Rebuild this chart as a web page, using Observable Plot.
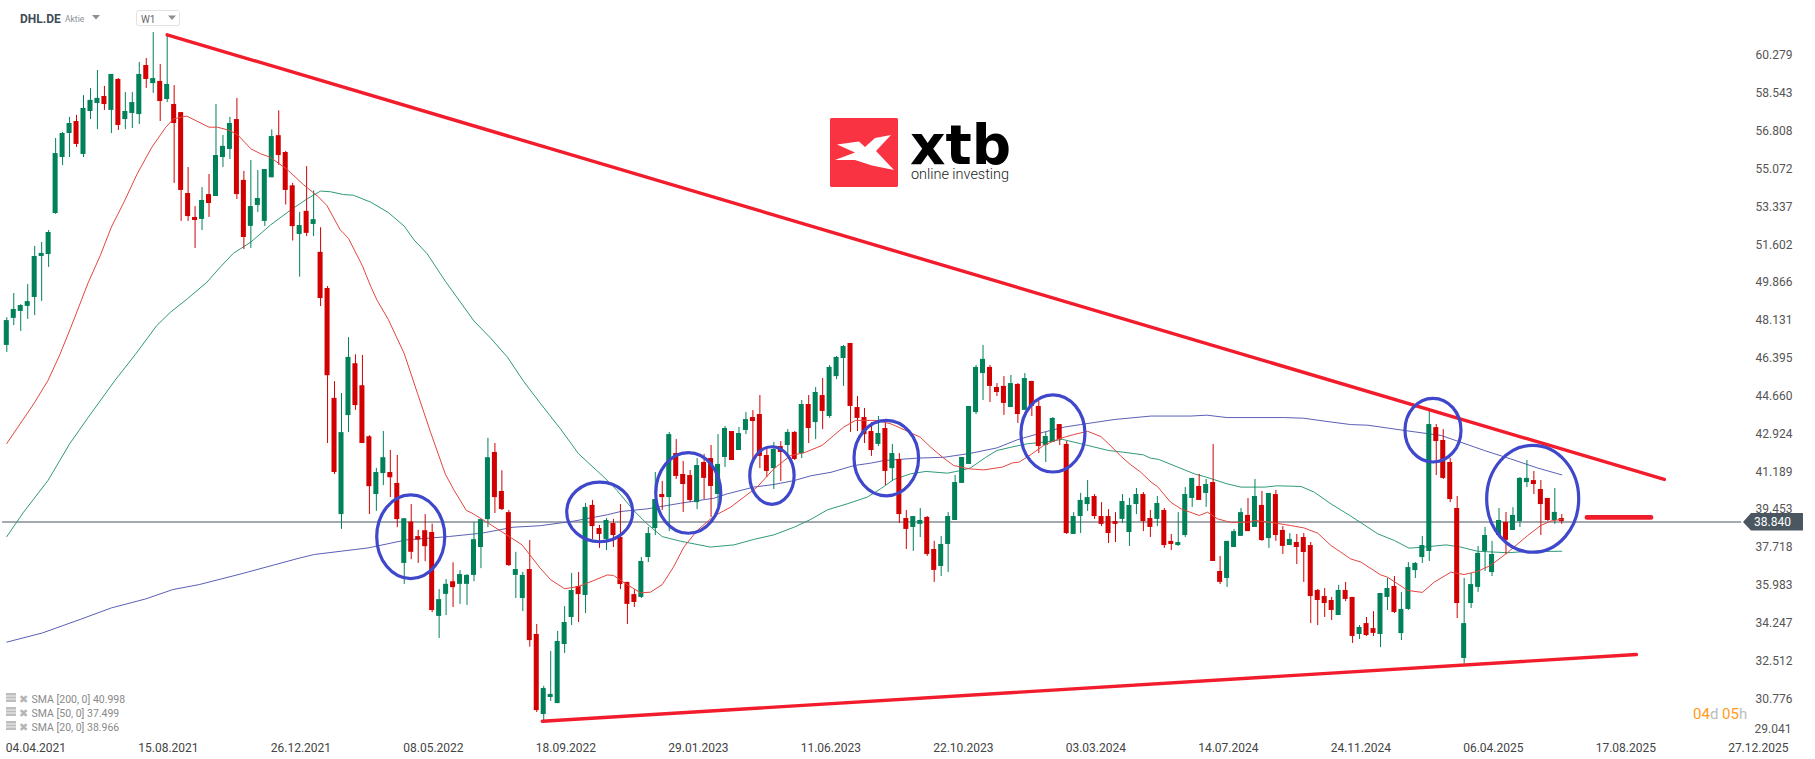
<!DOCTYPE html>
<html>
<head>
<meta charset="utf-8">
<script src="https://cdn.jsdelivr.net/npm/d3@7"></script>
<script src="https://cdn.jsdelivr.net/npm/@observablehq/plot@0.6"></script>
<style>
html,body{margin:0;padding:0;background:#fff;overflow:hidden}
#chart svg{display:block}
</style>
</head>
<body>
<div id="chart"></div>
<script>
const bodyTop=[48.08,48.59,48.77,48.95,51.02,51.16,52.12,55.74,56.66,57.12,
57.21,57.81,58.18,58.27,58.36,59.37,59.14,57.67,58.08,59.37,
59.78,59.18,59.05,58.91,57.99,57.62,53.91,52.81,53.59,53.86,
55.65,56.07,57.12,57.30,54.51,53.31,53.68,55.01,56.52,56.56,
55.79,54.26,52.44,53.09,52.71,51.21,49.55,44.51,42.94,46.39,
46.10,45.09,42.75,41.11,41.79,41.11,40.61,38.99,38.84,38.17,
38.44,38.36,35.28,35.98,36.10,36.43,36.39,38.03,38.95,41.79,
42.03,40.24,39.27,36.66,36.39,36.66,33.68,31.20,30.93,33.36,
34.23,35.70,35.88,39.51,39.60,38.54,38.91,38.77,38.13,36.07,
35.51,37.03,38.31,39.87,40.10,42.85,41.98,41.02,40.97,41.43,
41.57,41.75,41.48,43.13,42.99,42.90,43.54,43.63,43.77,41.89,
42.17,42.30,42.95,42.95,44.23,44.23,44.78,44.64,45.93,46.39,
46.89,47.03,44.09,43.63,42.99,42.90,43.13,41.98,41.71,39.00,
39.09,38.91,39.05,37.58,37.81,39.09,40.65,41.80,44.14,45.93,
46.30,45.93,45.01,45.06,45.19,45.15,45.42,45.29,44.14,42.76,
43.59,43.31,42.40,39.09,39.83,39.96,40.01,39.09,39.09,38.86,
39.78,39.60,40.10,40.10,39.00,39.69,39.37,37.95,37.90,40.10,
40.84,40.47,40.56,40.65,36.57,37.95,38.40,39.27,39.14,40.01,
39.60,40.15,40.10,38.45,38.04,37.90,38.13,37.76,35.70,35.42,
35.24,35.70,35.70,35.38,34.00,34.18,33.95,35.56,35.79,35.88,
34.83,36.75,36.94,37.76,43.31,43.17,42.58,41.57,39.46,34.18,
35.97,37.40,38.22,37.35,38.91,38.82,39.14,40.84,40.84,40.74,
40.33,39.92,39.28,39.00];
const bodyBottom=[46.94,48.18,48.50,48.73,49.14,51.02,51.11,52.99,55.56,56.66,
56.16,55.70,57.67,58.04,57.99,57.72,57.03,57.30,57.58,57.53,
59.14,58.95,58.13,58.22,57.12,54.05,52.85,52.67,52.72,53.45,
53.77,55.56,55.93,53.86,51.89,52.40,53.36,52.63,54.63,55.65,
54.05,52.39,52.03,52.08,52.49,49.09,45.55,41.11,39.18,43.72,
44.18,42.44,40.46,40.10,41.06,40.87,38.95,36.94,37.45,38.01,
37.71,34.78,34.51,35.52,35.83,35.98,35.98,36.39,37.67,38.95,
39.96,39.41,36.84,36.39,35.33,33.40,30.19,30.01,30.79,30.51,
33.22,34.46,35.51,35.47,38.63,38.27,38.04,38.22,35.97,35.06,
35.15,35.38,37.21,38.54,39.96,39.96,40.93,40.56,39.83,39.73,
40.84,40.47,40.10,41.80,41.66,42.12,43.04,43.45,41.85,41.16,
41.29,42.03,42.35,41.71,41.98,43.13,43.40,43.91,43.68,45.51,
46.34,44.14,43.59,42.85,42.12,42.40,41.16,41.29,39.18,38.50,
38.59,38.73,37.35,36.62,36.80,37.81,38.91,40.61,41.48,43.86,
45.65,45.06,44.78,44.28,44.09,43.77,43.96,44.14,42.30,42.35,
42.49,42.62,38.31,38.27,39.09,39.64,39.09,38.73,38.31,38.73,
38.96,38.36,39.64,38.86,38.59,38.96,37.76,37.81,37.76,38.22,
39.92,39.83,40.15,37.03,36.07,36.25,37.67,38.18,38.40,38.59,
37.99,38.08,38.22,37.72,37.76,37.67,37.44,35.42,35.24,35.10,
34.78,34.55,35.29,33.59,33.68,33.63,33.73,33.68,35.38,34.69,
33.72,34.83,36.61,37.21,37.49,42.53,40.84,39.87,35.10,32.58,
35.10,35.84,37.49,36.52,38.22,38.00,38.45,38.86,40.65,40.56,
39.64,38.91,38.91,38.86];
const highs=[48.21,49.32,48.81,49.73,51.48,51.66,52.21,56.43,56.71,57.40,
57.49,58.40,58.72,59.55,58.82,59.37,59.18,58.54,58.54,59.92,
60.10,61.29,59.83,61.20,58.86,57.62,55.10,53.31,54.18,54.78,
57.99,56.57,57.40,58.27,54.92,55.42,54.96,55.01,56.83,57.70,
55.84,54.38,53.04,55.14,54.03,52.34,49.64,45.28,44.73,47.30,
46.51,46.48,42.80,41.30,42.99,42.12,41.89,38.99,39.64,38.46,
39.18,38.74,35.74,36.20,36.97,36.61,36.43,38.82,38.95,42.68,
42.44,41.19,39.37,37.45,36.53,37.99,34.14,31.30,32.90,33.82,
34.96,36.48,36.52,39.69,39.83,38.68,39.00,38.96,39.64,36.07,
35.74,37.21,38.59,41.11,40.70,42.95,42.62,41.62,41.20,41.75,
41.94,42.35,42.85,43.22,42.99,43.18,43.86,43.95,44.64,42.30,
42.49,42.53,43.08,42.99,44.41,44.64,45.01,45.42,46.02,46.43,
46.94,47.03,44.60,44.05,43.40,43.68,43.36,42.40,41.98,39.37,
39.09,39.46,39.09,37.95,38.18,39.27,40.97,41.80,44.14,46.02,
46.94,46.02,45.19,45.51,45.56,45.19,45.65,45.29,44.37,42.95,
43.63,43.31,42.53,39.27,40.15,40.74,40.10,39.73,39.41,39.27,
40.10,39.92,40.38,40.19,39.37,40.01,39.46,38.27,39.27,40.42,
40.84,41.02,40.79,42.40,37.26,37.95,38.50,39.46,39.92,40.79,
40.24,40.15,40.29,38.63,38.31,38.27,38.31,37.90,35.74,35.79,
35.38,35.93,36.07,35.38,34.09,34.46,34.73,35.56,36.25,36.34,
35.61,36.98,36.98,38.17,43.95,43.31,43.08,41.75,40.01,36.25,
36.48,37.72,38.59,37.95,39.46,39.28,39.50,40.88,41.66,41.16,
40.74,39.92,40.38,39.18];
const lows=[46.62,47.85,47.58,48.13,48.31,48.96,50.52,52.95,55.19,55.56,
56.02,55.56,57.30,56.84,57.72,56.66,56.80,56.84,56.89,57.07,
58.73,58.50,57.21,58.08,54.37,52.63,52.63,51.39,52.21,52.81,
53.77,55.10,55.47,53.63,51.34,51.39,53.04,52.40,54.63,55.20,
53.38,51.73,50.07,51.93,51.93,48.72,42.44,41.02,38.50,42.94,
43.96,42.44,39.18,39.33,40.51,39.96,38.58,35.98,37.11,36.94,
37.02,34.68,33.50,34.55,34.92,35.06,35.01,36.10,36.70,38.58,
39.23,39.36,36.80,35.33,34.73,33.10,30.10,29.74,30.61,30.51,
32.81,34.09,34.23,34.64,38.04,37.63,37.53,37.67,35.74,34.14,
34.92,35.33,36.98,38.22,39.37,38.40,40.79,39.28,39.73,39.41,
39.87,39.05,39.55,41.34,41.66,42.12,42.85,41.62,41.29,40.88,
40.33,40.70,41.85,41.66,41.75,42.44,42.62,43.08,43.59,45.37,
45.06,42.95,42.99,42.44,41.85,42.30,40.51,40.70,38.77,37.58,
37.49,38.13,37.26,36.07,36.34,36.52,38.91,40.61,41.48,43.77,
44.41,44.32,44.60,43.73,44.09,43.36,43.96,43.68,41.98,41.57,
42.49,42.35,38.27,38.27,38.31,39.32,38.96,38.63,37.85,37.90,
38.77,37.72,39.18,38.40,38.13,38.63,37.63,37.53,37.72,38.13,
39.51,39.83,39.51,37.03,35.97,35.84,37.67,38.18,38.40,38.59,
37.95,37.63,37.95,37.35,37.76,36.89,36.07,34.18,34.09,34.46,
34.32,34.55,35.19,33.27,33.45,33.59,33.59,33.08,34.78,34.64,
33.40,34.78,36.25,36.94,37.03,40.97,40.79,39.73,34.41,32.33,
34.87,35.61,36.57,36.34,38.17,37.35,38.45,38.59,40.42,40.10,
38.22,38.86,38.73,38.73];
const fallingWeeks=[10,14,16,20,22,24,25,26,27,29,33,34,39,40,41,43,45,46,47,50,51,52,55,56,58,59,60,61,64,70,71,72,75,76,82,84,85,87,88,89,90,94,96,97,98,100,101,104,107,108,109,111,113,115,117,121,122,123,124,126,128,129,132,133,141,142,143,145,147,148,151,152,156,157,158,159,163,164,166,167,171,173,174,178,180,182,183,185,186,187,188,189,190,192,193,195,196,199,205,206,207,208,215,219,220,221,223];

const sma20Week=[0,4,5.9,7.6,9.1,11.7,13.4,15,16.8,18.7,20.8,22.8,23.9,25.8,29,30.2,32,33.2,35,36.4,37.8,40.2,42.6,44.7,45.9,47.8,49,51,52.2,53.1,54.7,57,58.9,60.8,62.9,64.1,65.9,66.7,68.9,70.8,73.9,76.5,78,80,82,84.2,86.1,87,89,90.9,92.3,94,95.6,97.1,99,101.4,103.8,105.7,107.6,110,112.4,114.3,116.9,118.6,120,121.7,124.8,126.8,128.7,131,132.5,134.2,135.8,138,140.1,142.8,144.2,145.2,146.9,148.7,150.9,153,155,156.9,158,159.8,161.2,162.6,164.1,165,166.9,168.4,171,172.2,173.6,175.5,177.9,179,181.3,184.1,186,188,189.9,191.3,192.7,194.2,197,198,200.9,203,204.7,207.1,209,210.9,212.8,215.2,218.1,220,221.4,223];
const sma20Value=[42.44,44.33,45.33,46.51,47.70,49.84,51.06,52.37,53.51,54.81,56.03,56.95,57.33,57.46,56.95,56.95,56.8,56.57,55.96,55.73,55.57,55.01,54.30,53.75,53.36,52.25,51.85,50.59,49.64,49.01,48.14,46.56,44.74,42.93,41.03,40.32,39.37,39.25,38.82,38.43,37.79,36.72,36.19,35.78,35.88,36.16,36.41,36.39,35.96,35.59,35.62,35.97,36.77,37.69,38.45,39.11,39.52,39.98,40.44,41.28,41.89,42.01,42.35,42.81,43.19,43.50,43.50,43.34,43.07,42.73,42.27,41.81,41.43,41.28,41.23,41.36,41.55,41.59,41.94,42.35,42.66,42.85,43.0,42.76,42.43,41.85,41.46,41.13,40.67,40.47,39.75,39.44,39.14,39.29,38.99,38.82,38.83,38.91,38.82,38.68,38.57,38.33,37.76,37.46,37.15,37.00,36.42,36.31,35.70,35.61,36.08,36.54,36.43,36.57,36.85,37.43,38.22,38.68,38.88,38.97];
const sma50Week=[0,2.4,5.9,9,11.7,15.5,18.4,21.5,23.5,25.9,27.3,28.7,30.6,32.5,35,37.8,40.7,43.1,45,46.4,48.3,49.7,52.2,54.7,57,58.4,60.3,62.9,67,69.4,71.8,74.1,76.5,79.4,82,85.9,87.5,89.9,91.8,94,96.6,100.9,104.3,107.1,110,112.9,115.3,117.7,120.5,123.4,125.3,127.2,129.6,131.8,134.9,136.8,138.2,140.4,142,144,146.4,148.7,151.4,154,158,160.2,163,164,165.2,167.9,170.3,172,175,177,180.4,182.2,185.6,187.5,189.9,192.7,196.6,199,201.1,203.2,206.4,208.5,210.9,215.2,218.6,221.4,223];
const sma50Value=[38.17,39.29,40.74,42.42,43.65,45.33,46.51,47.85,48.47,49.08,49.46,49.84,50.53,51.17,51.68,52.46,53.15,53.67,54.02,53.99,53.86,53.83,53.51,53.04,52.41,51.78,51.14,49.88,48.06,47.27,46.40,45.30,44.29,43.11,41.97,40.82,40.29,39.37,38.76,38.17,37.96,37.69,37.79,38.04,38.25,38.6,38.96,39.4,39.67,39.98,40.36,40.79,41.05,41.16,41.08,41.2,41.32,41.81,42.12,42.27,42.43,42.5,42.63,42.43,42.12,42.04,41.92,41.77,41.71,41.36,41.05,40.9,40.59,40.44,40.44,40.5,40.47,40.21,39.67,39.12,38.3,37.99,37.64,37.69,37.79,37.69,37.5,37.43,37.5,37.49,37.5];
const sma200Week=[0,5.1,10.6,15,19.9,23.8,27.6,33.6,41.9,44.1,51.8,57.3,63.3,68.2,72.6,76.5,81.3,86.1,88,91.8,96.6,101.4,103.3,107.1,110,112.9,115.3,118.2,121.5,123.9,125.8,130.6,134.4,138.2,142,144.9,148.7,151.6,154,158.8,164.1,169.8,172.1,175,183.2,186,188.9,192.7,195.2,200.4,205.7,208.5,211.9,215.7,219.5,223];
const sma200Value=[33.33,33.75,34.38,34.90,35.31,35.74,35.97,36.46,37.18,37.35,37.65,38.02,38.17,38.33,38.60,38.67,38.88,39.17,39.32,39.44,39.7,39.93,40.13,40.44,40.56,40.74,40.96,41.12,41.43,41.54,41.66,41.77,41.81,41.99,42.24,42.61,42.96,43.19,43.31,43.54,43.70,43.70,43.74,43.63,43.63,43.6,43.47,43.31,43.28,43.04,42.81,42.50,42.12,41.73,41.32,41.0];

const dateTickWeeks=[0,19,38,57,76,95,114,133,152,171,190,209,228,247];
const dateTickLabels=["04.04.2021","15.08.2021","26.12.2021","08.05.2022","18.09.2022","29.01.2023","11.06.2023","22.10.2023","03.03.2024","14.07.2024","24.11.2024","06.04.2025","17.08.2025","27.12.2025"];
const priceTicks=[60.279,58.543,56.808,55.072,53.337,51.602,49.866,48.131,46.395,44.660,42.924,41.189,39.453,37.718,35.983,34.247,32.512,30.776];
const bottomPriceTick=29.041;
const lastPrice=38.84;
const trendUpper={week:[23,237.7],price:[61.19,40.79]};
const trendLower={week:[76.8,233.7],price:[29.70,32.76]};
const targetLevel={week:[226.6,235.8],price:[39.05,39.05]};
const ringWeek=[58.0,85.1,97.8,109.8,126.2,150.1,204.6,218.9];
const ringPrice=[38.14,39.28,40.15,40.95,41.75,42.88,43.03,39.88];
const ringWeekRadius=[4.88,4.73,4.66,3.18,4.63,4.59,4.02,6.60];
const ringPriceRadius=[1.92,1.37,1.85,1.32,1.73,1.77,1.46,2.45];
const legendRows=["SMA [200, 0] 40.998","SMA [50, 0] 37.499","SMA [20, 0] 38.966"];

const GREEN="#00815a",RED="#d20000",FONT="Roboto, sans-serif";
const falling=new Set(fallingWeeks);
const candles=bodyTop.map((t,i)=>({i,top:t,bottom:bodyBottom[i],high:highs[i],low:lows[i],
  open:falling.has(i)?t:bodyBottom[i],close:falling.has(i)?bodyBottom[i]:t,dir:falling.has(i)?"down":"up"}));
const pts=(w,v)=>w.map((x,k)=>({x,y:v[k]}));
const seg=s=>pts(s.week,s.price);

const PXW=6.973,X0=6.3,PXP=21.8;
function overlays(index,{x,y}){
  const g=d3.create("svg:g").attr("text-anchor","start");
  ringWeek.forEach((w,k)=>{
    g.append("ellipse").attr("cx",x(w)).attr("cy",y(ringPrice[k]))
     .attr("rx",x(w+ringWeekRadius[k])-x(w)).attr("ry",y(ringPrice[k]-ringPriceRadius[k])-y(ringPrice[k]))
     .attr("fill","none").attr("stroke","#3f47cb").attr("stroke-width",3.2);
  });
  const py=y(lastPrice);
  g.append("path").attr("d",`M1743,${py+.5}L1751,${py-8.5}H1803V${py+9}H1751Z`).attr("fill","#4a5761");
  g.append("text").text("38.840").attr("x",1791).attr("y",py+1.5).attr("text-anchor","end").attr("dominant-baseline","middle")
    .attr("font-family",FONT).attr("font-size",12).attr("fill","#fff");
  const logo=g.append("g");
  logo.append("rect").attr("x",830).attr("y",118).attr("width",68).attr("height",69).attr("rx",1.5).attr("fill","#f93342");
  logo.append("path").attr("d","M837,144.5L859,141.5L865,147L875,138L891,135L876,151L894,170L872,165.5L855,160L835,160L855,152.5Z").attr("fill","#fff");
  logo.append("text").text("xtb").attr("x",910).attr("y",163.5).attr("font-family","DejaVu Sans").attr("font-weight",700).attr("font-size",55).attr("fill","#000");
  logo.append("text").text("online investing").attr("x",911).attr("y",179).attr("font-family","Roboto").attr("font-weight",300).attr("font-size",14.5).attr("textLength",98).attr("fill","#222");
  g.append("text").text("DHL.DE").attr("x",20).attr("y",22.5).attr("font-family",FONT).attr("font-weight",700).attr("font-size",12).attr("fill","#3f4a55");
  g.append("text").text("Aktie").attr("x",65).attr("y",22).attr("font-family",FONT).attr("font-size",8.5).attr("fill","#8a8f95");
  g.append("path").attr("d","M92,15H100L96,19.5Z").attr("fill","#8a8f95");
  g.append("rect").attr("x",136.5).attr("y",10.5).attr("width",43).attr("height",15).attr("rx",2).attr("fill","#fff").attr("stroke","#e2e2e2");
  g.append("text").text("W1").attr("x",141).attr("y",23).attr("font-family",FONT).attr("font-size",10).attr("fill","#666");
  g.append("path").attr("d","M168,15.5H176L172,20Z").attr("fill","#8a8f95");
  legendRows.forEach((t,k)=>{
    const ly=699+14*k;
    g.append("rect").attr("x",6).attr("y",ly-6).attr("width",10).attr("height",9).attr("fill","#bdbdbd");
    g.append("path").attr("d",`M6,${ly-3}H16M6,${ly}H16`).attr("stroke","#fff").attr("stroke-width",.8);
    g.append("text").text("✖").attr("x",19).attr("y",ly+3.5).attr("font-family","DejaVu Sans").attr("font-size",11).attr("fill","#b5b5b5");
    g.append("text").text(t).attr("x",31.5).attr("y",ly+4).attr("font-family",FONT).attr("font-size",10.5).attr("fill","#8a8a8a");
  });
  const cd=g.append("text").attr("x",1693).attr("y",719).attr("font-family",FONT).attr("font-size",15);
  [["04","#ff9b19"],["d ","#bdbdbd"],["05","#ff9b19"],["h","#bdbdbd"]].forEach(([t,c])=>cd.append("tspan").text(t).attr("fill",c));
  return g.node();
}

const chart=Plot.plot({
  width:1815,height:759,
  marginTop:0,marginLeft:0,marginRight:60,marginBottom:23,
  style:{fontFamily:FONT,background:"#fff",overflow:"visible"},
  x:{type:"linear",domain:[0,260],range:[X0,X0+260*PXW],axis:null},
  y:{type:"linear",domain:[29,62],range:[521.5+(lastPrice-29)*PXP,521.5-(62-lastPrice)*PXP],axis:null},
  color:{domain:["up","down"],range:[GREEN,RED]},
  marks:[
    Plot.ruleY([lastPrice],{x1:-0.6,x2:248.8,stroke:"#4a5561",strokeWidth:1.2}),
    Plot.line(pts(sma200Week,sma200Value),{x:"x",y:"y",stroke:"#5b60b6",strokeWidth:1}),
    Plot.line(pts(sma50Week,sma50Value),{x:"x",y:"y",stroke:"#2f9a78",strokeWidth:1}),
    Plot.ruleX(candles,{x:"i",y1:"low",y2:"high",stroke:"dir",strokeWidth:1}),
    Plot.rect(candles,{x1:d=>d.i-0.36,x2:d=>d.i+0.36,y1:"open",y2:"close",fill:"dir"}),
    Plot.line(pts(sma20Week,sma20Value),{x:"x",y:"y",stroke:"#e2463f",strokeWidth:1}),
    Plot.line(seg(trendUpper),{x:"x",y:"y",stroke:"#f21c2c",strokeWidth:3.4}),
    Plot.line(seg(trendLower),{x:"x",y:"y",stroke:"#f21c2c",strokeWidth:3.4}),
    Plot.line(seg(targetLevel),{x:"x",y:"y",stroke:"#ef1c2a",strokeWidth:4.6,strokeLinecap:"round"}),
    Plot.axisX(dateTickWeeks,{anchor:"bottom",tickSize:0,tickPadding:7,textAnchor:"start",fontSize:12,fill:"#444",
      tickFormat:d=>dateTickLabels[dateTickWeeks.indexOf(d)],label:null,dx:-1}),
    Plot.axisY(priceTicks,{anchor:"right",tickSize:0,tickPadding:0,fontSize:12,fill:"#555",tickFormat:d=>d.toFixed(3),label:null,dy:1}),
    Plot.text([bottomPriceTick],{y:d=>d,frameAnchor:"right",dx:36,dy:-6,text:d=>d.toFixed(3),fontSize:12,fill:"#555",textAnchor:"end"}),
    overlays
  ]
});
document.getElementById("chart").append(chart);
</script>
</body>
</html>
